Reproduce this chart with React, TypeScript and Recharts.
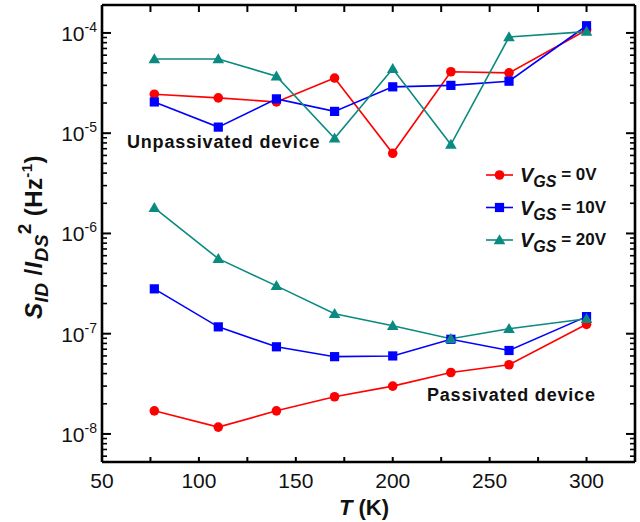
import { LineChart, Line, XAxis, YAxis, Legend } from "recharts";

const T_K = [77, 110, 140, 170, 200, 230, 260, 300];

// unpassivated device
const unpass0 = [2.45e-5, 2.25e-5, 2.05e-5, 3.55e-5, 6.3e-6, 4.1e-5, 4.0e-5, 1.07e-4];
const unpass10 = [2.05e-5, 1.15e-5, 2.2e-5, 1.65e-5, 2.9e-5, 3.0e-5, 3.3e-5, 1.18e-4];
const unpass20 = [5.5e-5, 5.5e-5, 3.7e-5, 8.9e-6, 4.4e-5, 7.7e-6, 9.1e-5, 1.03e-4];

// passivated device
const pass0 = [1.7e-8, 1.17e-8, 1.7e-8, 2.35e-8, 3.0e-8, 4.1e-8, 4.9e-8, 1.24e-7];
const pass10 = [2.8e-7, 1.17e-7, 7.4e-8, 5.9e-8, 6.0e-8, 8.8e-8, 6.8e-8, 1.48e-7];
const pass20 = [1.8e-6, 5.6e-7, 3.0e-7, 1.58e-7, 1.2e-7, 8.9e-8, 1.12e-7, 1.41e-7];

const legendLabels = ["0V", "10V", "20V"];
const xLabelTicks = [50, 100, 150, 200, 250, 300];
const xTicks = [50, 75, 100, 125, 150, 175, 200, 225, 250, 275, 300];
const yTicks = [6e-9, 7e-9, 8e-9, 9e-9];
[-8, -7, -6, -5].forEach((e) => {
  for (let m = 1; m <= 9; m++) yTicks.push(m * Math.pow(10, e));
});
yTicks.push(1e-4);

const RED = "#ff0000";
const BLUE = "#0000ff";
const TEAL = "#0b8a80";
const FONT = "'Liberation Sans', Arial, sans-serif";

const data = T_K.map((t, i) => ({
  t,
  u0: unpass0[i], u10: unpass10[i], u20: unpass20[i],
  p0: pass0[i], p10: pass10[i], p20: pass20[i],
}));

const isMajor = (v: number) => {
  const lg = Math.log10(v);
  return Math.abs(lg - Math.round(lg)) < 1e-6;
};

const Circle = ({ cx, cy, fill }: any) =>
  cx == null ? null : <circle cx={cx} cy={cy} r={4.8} fill={fill} />;
const Square = ({ cx, cy, fill }: any) =>
  cx == null ? null : <rect x={cx - 4.6} y={cy - 4.6} width={9.2} height={9.2} fill={fill} />;
const Tri = ({ cx, cy, fill }: any) =>
  cx == null ? null : <path d={`M${cx},${cy - 5.8} L${cx + 5.8},${cy + 4.2} L${cx - 5.8},${cy + 4.2} Z`} fill={fill} />;

const LeftTick = ({ x, y, payload }: any) => {
  const v = payload.value;
  const major = isMajor(v);
  return (
    <g>
      <line x1={x} x2={x + (major ? 9 : 5)} y1={y} y2={y} stroke="#000" strokeWidth={major ? 2 : 1.6} />
      {major && (
        <text x={x - 5} y={y + 8} textAnchor="end" fontSize={21} fontFamily={FONT} fill="#111">
          10<tspan dy={-9} fontSize={14}>{`-${-Math.round(Math.log10(v))}`}</tspan>
        </text>
      )}
    </g>
  );
};

const RightTick = ({ x, y, payload }: any) => {
  const major = isMajor(payload.value);
  return <line x1={x} x2={x - (major ? 9 : 5)} y1={y} y2={y} stroke="#000" strokeWidth={major ? 2 : 1.6} />;
};

const BottomTick = ({ x, y, payload }: any) => (
  <g>
    <line x1={x} x2={x} y1={y} y2={y - 5} stroke="#000" strokeWidth={2} />
    {xLabelTicks.includes(payload.value) && (
      <text x={x} y={y + 26} textAnchor="middle" fontSize={21} fontFamily={FONT} fill="#111">
        {payload.value}
      </text>
    )}
  </g>
);

const TopTick = ({ x, y }: any) => (
  <line x1={x} x2={x} y1={y} y2={y + 7} stroke="#000" strokeWidth={2} />
);

const legendColors = [RED, BLUE, TEAL];
const markers = [Circle, Square, Tri];

const LegendBox = () => (
  <svg width={140} height={95}>
    {legendLabels.map((lab, i) => {
      const M = markers[i];
      const color = legendColors[i];
      const cy = 15 + i * 32.5;
      return (
        <g key={i}>
          <line x1={6} x2={33} y1={cy} y2={cy} stroke={color} strokeWidth={1.6} />
          <M cx={19.5} cy={cy} fill={color} />
          <text x={40} y={cy + 7} fontFamily={FONT} fontWeight="bold" fill="#111">
            <tspan fontSize={20} fontStyle="italic">V</tspan>
            <tspan fontSize={16} fontStyle="italic" dy={5}>GS</tspan>
            <tspan fontSize={17} dy={-7}>{` = ${lab}`}</tspan>
          </text>
        </g>
      );
    })}
  </svg>
);

const Annotations = () => (
  <g fontFamily={FONT} fill="#111">
    <text x={127} y={148} fontSize={18} fontWeight="bold" letterSpacing={0.8}>Unpassivated device</text>
    <text x={427} y={401} fontSize={18} fontWeight="bold" letterSpacing={0.8}>Passivated device</text>
    <text x={364} y={515} textAnchor="middle" fontSize={22} fontWeight="bold">
      <tspan fontStyle="italic">T</tspan>
      <tspan> (K)</tspan>
    </text>
    <text transform="rotate(-90, 42, 237)" x={42} y={237} textAnchor="middle" fontWeight="bold" fontSize={24}
      letterSpacing={0.4}>
      <tspan fontStyle="italic">S</tspan>
      <tspan fontStyle="italic" fontSize={19} dy={6}>ID</tspan>
      <tspan dy={-6}> /</tspan>
      <tspan fontStyle="italic">I</tspan>
      <tspan fontStyle="italic" fontSize={19} dy={6}>DS</tspan>
      <tspan fontSize={19} dy={-17}>2</tspan>
      <tspan dy={11}> (Hz</tspan>
      <tspan fontSize={15} dy={-10}>-1</tspan>
      <tspan dy={10}>)</tspan>
    </text>
  </g>
);

const series = [
  { key: "u0", color: RED, dot: Circle, name: "0V", legend: true },
  { key: "u10", color: BLUE, dot: Square, name: "10V", legend: true },
  { key: "u20", color: TEAL, dot: Tri, name: "20V", legend: true },
  { key: "p0", color: RED, dot: Circle, name: "p0", legend: false },
  { key: "p10", color: BLUE, dot: Square, name: "p10", legend: false },
  { key: "p20", color: TEAL, dot: Tri, name: "p20", legend: false },
];

const AXIS = { stroke: "#000", strokeWidth: 2.6 };

export default function App() {
  return (
    <div style={{ position: "absolute", left: 0, top: 0, width: 640, height: 522, background: "#fff" }}>
      <LineChart width={640} height={522} data={data} margin={{ top: 4, right: 4, bottom: 59, left: 101 }}>
        <XAxis dataKey="t" type="number" domain={[50, 325]} allowDataOverflow ticks={xTicks} interval={0}
          height={1} tickSize={0} tickMargin={0} tick={<BottomTick />} axisLine={AXIS} />
        <XAxis xAxisId="top" orientation="top" dataKey="t" type="number" domain={[50, 325]} allowDataOverflow
          ticks={xTicks} interval={0} height={1} tickSize={0} tickMargin={0} tick={<TopTick />} axisLine={AXIS} />
        <YAxis type="number" scale="log" domain={[5.25e-9, 1.9e-4]} allowDataOverflow ticks={yTicks} interval={0}
          width={1} tickSize={0} tickMargin={0} tick={<LeftTick />} axisLine={AXIS} />
        <YAxis yAxisId="right" orientation="right" type="number" scale="log" domain={[5.25e-9, 1.9e-4]}
          allowDataOverflow ticks={yTicks} interval={0} width={1} tickSize={0} tickMargin={0}
          tick={<RightTick />} axisLine={AXIS} />
        <Legend layout="vertical" align="center" verticalAlign="middle" content={<LegendBox />}
          wrapperStyle={{ left: 480, top: 160, width: 140, height: 95 }} />
        {series.map((s) => {
          const D = s.dot;
          return (
            <Line key={s.key} type="linear" dataKey={s.key} name={s.name} stroke={s.color} strokeWidth={1.6}
              dot={(p: any) => <D key={`${s.key}-${p.index}`} cx={p.cx} cy={p.cy} fill={s.color} />}
              activeDot={false} legendType={s.legend ? "line" : "none"} isAnimationActive={false} />
          );
        })}
        <Annotations />
      </LineChart>
    </div>
  );
}
